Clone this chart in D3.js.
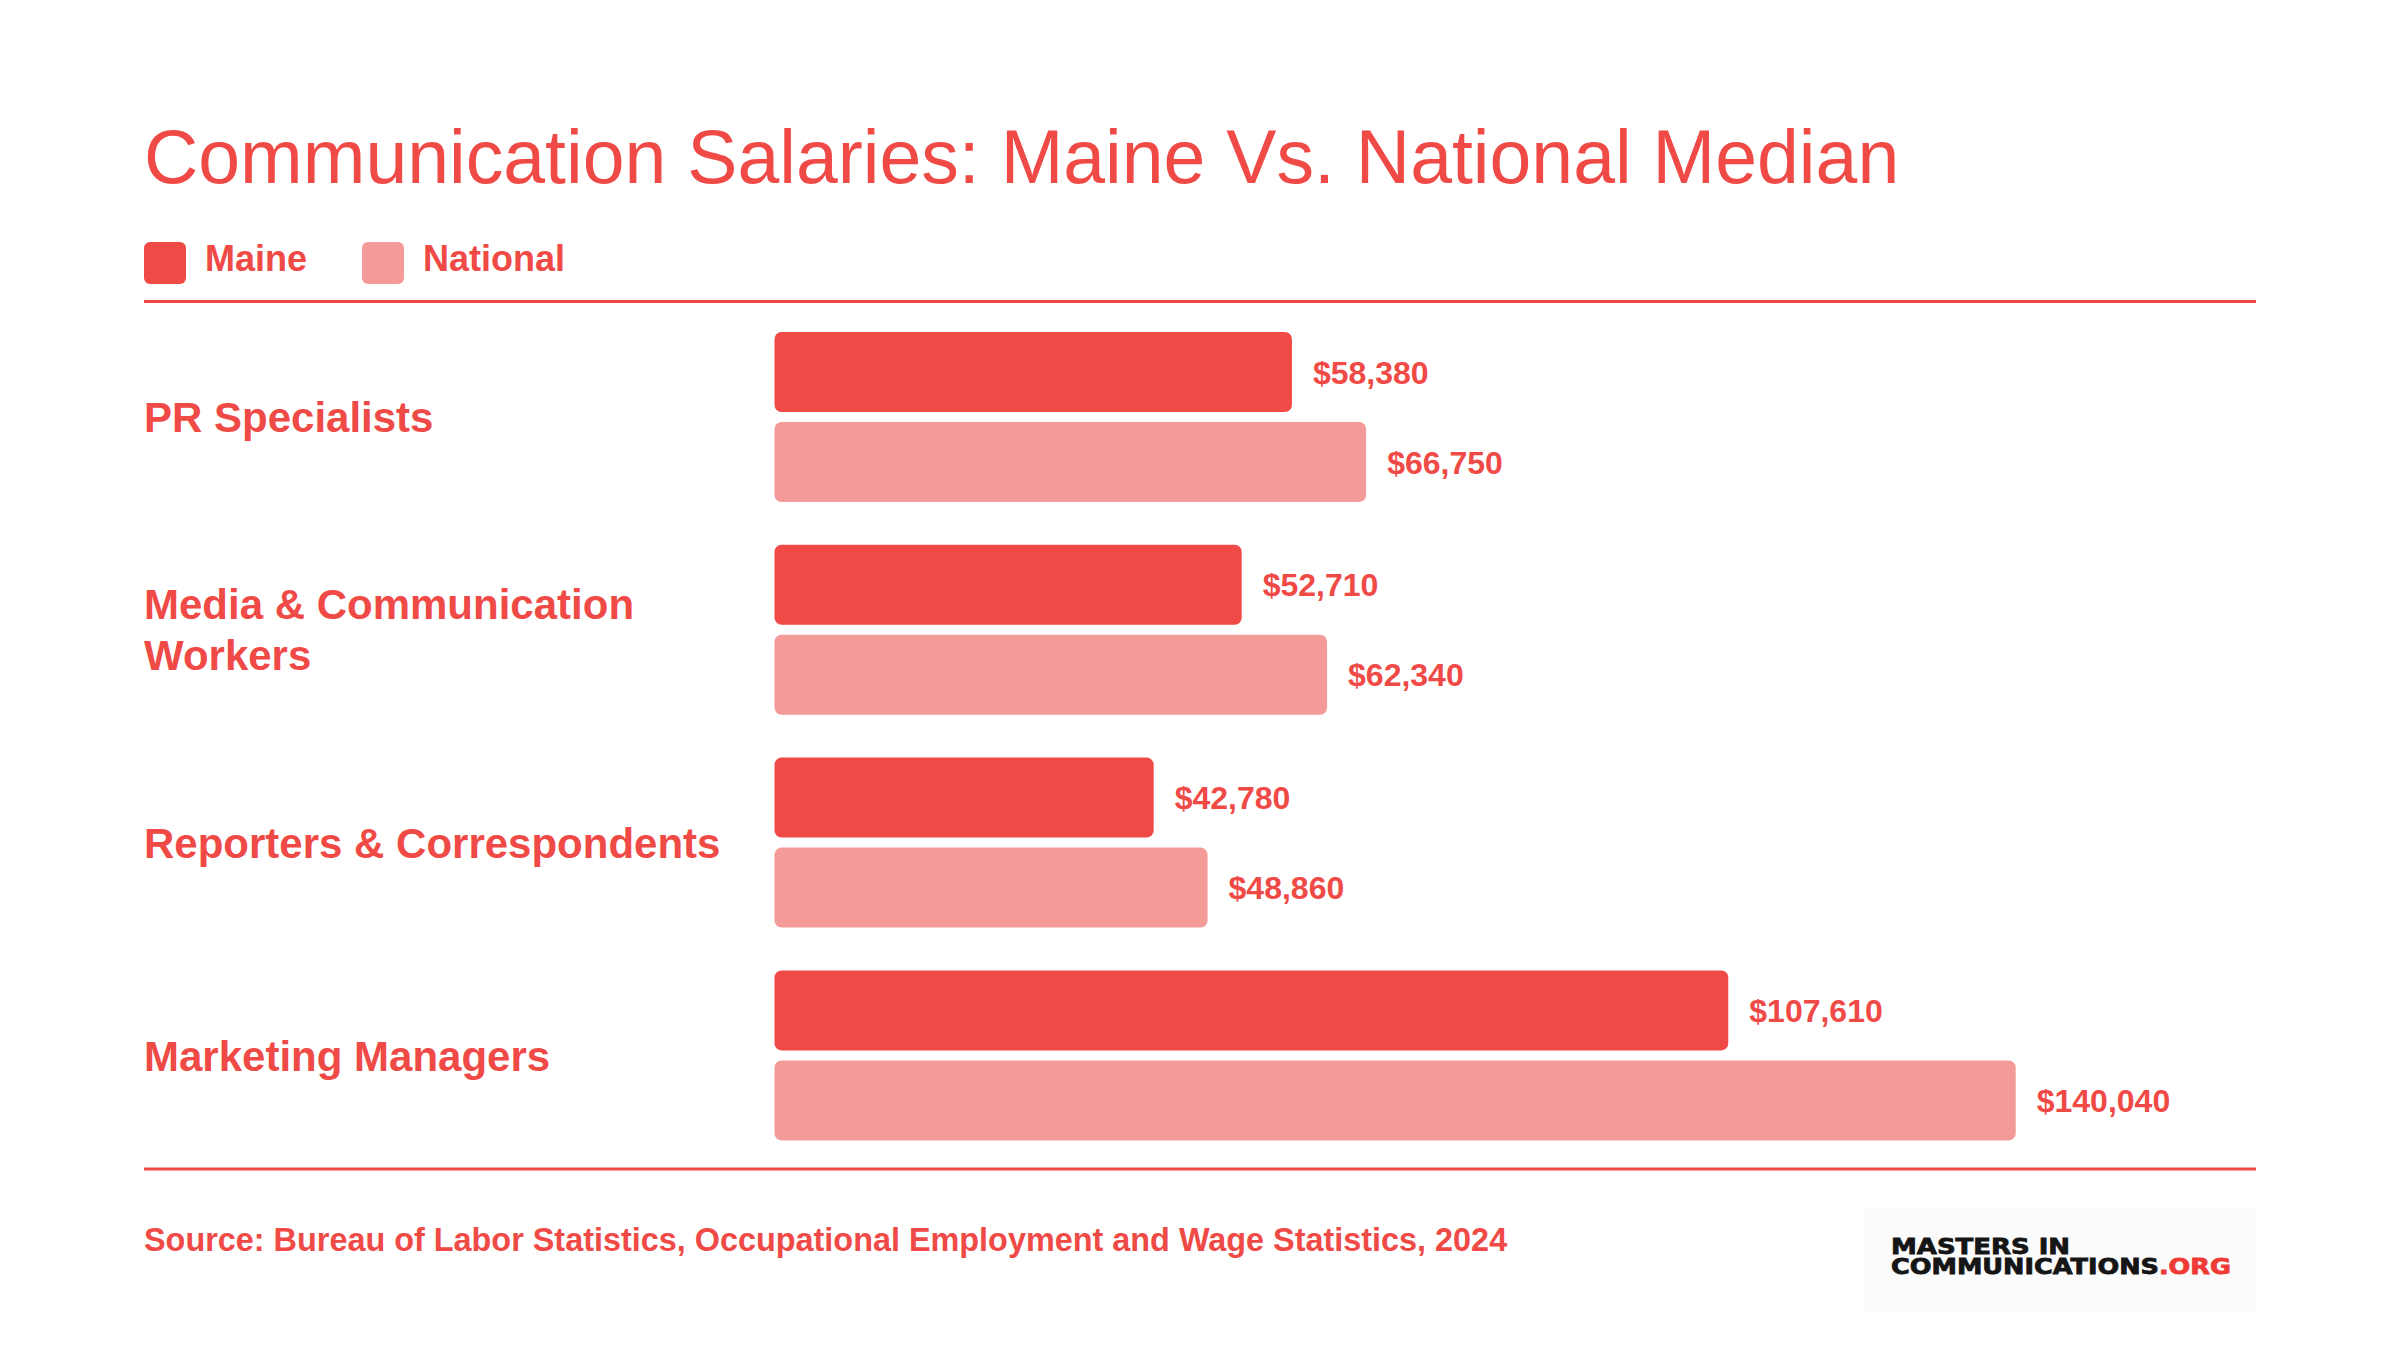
<!DOCTYPE html>
<html>
<head>
<meta charset="utf-8">
<script src="https://cdn.jsdelivr.net/npm/d3@7"></script>
<style>
    body { margin: 0; background: #fff; }
    svg { display: block; font-family: "Liberation Sans", Arial, Helvetica, sans-serif; }
</style>
</head>
<body>
<div id="chart"></div>
<script>
// data
const categories = ["PR Specialists", "Media & Communication Workers", "Reporters & Correspondents", "Marketing Managers"];
// how each category label wraps
const categoryLines = [["PR Specialists"], ["Media & Communication", "Workers"], ["Reporters & Correspondents"], ["Marketing Managers"]];
const seriesNames = ["Maine", "National"];
const maineValues = [58380, 52710, 42780, 107610];
const nationalValues = [66750, 62340, 48860, 140040];

const title = "Communication Salaries: Maine Vs. National Median";
const source = "Source: Bureau of Labor Statistics, Occupational Employment and Wage Statistics, 2024";

const red = "#F04A47";
const pink = "#F49B99";
const colors = {Maine: red, National: pink};

const width = 2400, height = 1350;
const left = 144, right = 2256;

const svg = d3.select("#chart").append("svg")
    .attr("width", width)
    .attr("height", height);

// title
svg.append("text")
    .attr("x", left)
    .attr("y", 183)
    .attr("fill", red)
    .style("font-size", "75.2px")
    .text(title);

// legend
const legend = svg.append("g").attr("transform", "translate(" + left + ",242)");
const legendX = [0, 218];
seriesNames.forEach((name, i) => {
    const g = legend.append("g").attr("transform", "translate(" + legendX[i] + ",0)");
    g.append("rect")
        .attr("width", 42).attr("height", 42)
        .attr("rx", 6)
        .attr("fill", colors[name]);
    g.append("text")
        .attr("x", 61).attr("y", 29)
        .attr("fill", red)
        .style("font-size", "36px")
        .style("font-weight", "bold")
        .text(name);
});

// rules
[301.5, 1169].forEach(y => {
    svg.append("line")
        .attr("x1", left).attr("x2", right)
        .attr("y1", y).attr("y2", y)
        .attr("stroke", red)
        .attr("stroke-width", 3);
});

// scales
const rows = categories.map((c, i) => ({
    category: c,
    lines: categoryLines[i],
    values: [
        {series: "Maine", value: maineValues[i]},
        {series: "National", value: nationalValues[i]}
    ]
}));

const x = d3.scaleLinear().domain([0, 150000]).range([774.5, 2104]);
const y = d3.scaleBand().domain(categories).range([332, 1140.4]).paddingInner(0.201).paddingOuter(0);
const y1 = d3.scaleBand().domain(seriesNames).range([0, y.bandwidth()]).paddingInner(0.111);

const fmt = d3.format("$,");

const group = svg.append("g").selectAll("g")
    .data(rows)
    .join("g")
    .attr("transform", d => "translate(0," + y(d.category) + ")");

// category labels, vertically centred on the group (cap-height centring)
const labelSize = 42, lineGap = 51;
group.append("text")
    .attr("fill", red)
    .style("font-size", labelSize + "px")
    .style("font-weight", "bold")
    .each(function(d) {
        const n = d.lines.length;
        const base = y.bandwidth() / 2 + 0.36 * labelSize - (n - 1) * lineGap / 2;
        d3.select(this).selectAll("tspan")
            .data(d.lines)
            .join("tspan")
            .attr("x", left)
            .attr("y", (t, j) => base + j * lineGap)
            .text(t => t);
    });

const bars = group.selectAll("g.bar")
    .data(d => d.values)
    .join("g")
    .attr("class", "bar")
    .attr("transform", d => "translate(0," + y1(d.series) + ")");

bars.append("rect")
    .attr("x", x(0))
    .attr("width", d => x(d.value) - x(0))
    .attr("height", y1.bandwidth())
    .attr("rx", 7)
    .attr("fill", d => colors[d.series]);

bars.append("text")
    .attr("x", d => x(d.value) + 21)
    .attr("y", y1.bandwidth() / 2 + 11.5)
    .attr("fill", red)
    .style("font-size", "32px")
    .style("font-weight", "bold")
    .text(d => fmt(d.value));

// source note
svg.append("text")
    .attr("x", left)
    .attr("y", 1251)
    .attr("fill", red)
    .style("font-size", "32.4px")
    .style("font-weight", "bold")
    .text(source);

// logo block, bottom right
const logo = svg.append("g").attr("transform", "translate(1865,1207)");
logo.append("rect")
    .attr("width", 392).attr("height", 106)
    .attr("fill", "#FBFBFB");
logo.append("text")
    .attr("x", 26).attr("y", 47)
    .attr("fill", "#151515")
    .attr("textLength", 179)
    .attr("lengthAdjust", "spacingAndGlyphs")
    .attr("stroke", "#151515")
    .attr("stroke-width", 0.8)
    .style("font-family", "'DejaVu Sans', sans-serif")
    .style("font-size", "21px")
    .style("font-weight", "bold")
    .text("MASTERS IN");
const l2 = logo.append("text")
    .attr("x", 26).attr("y", 67)
    .attr("fill", "#151515")
    .attr("stroke", "#151515")
    .attr("stroke-width", 0.8)
    .attr("textLength", 340)
    .attr("lengthAdjust", "spacingAndGlyphs")
    .style("font-family", "'DejaVu Sans', sans-serif")
    .style("font-size", "21px")
    .style("font-weight", "bold");
l2.append("tspan").text("COMMUNICATIONS");
l2.append("tspan").attr("fill", "#EE3B36").attr("stroke", "#EE3B36").text(".ORG");
</script>
</body>
</html>
